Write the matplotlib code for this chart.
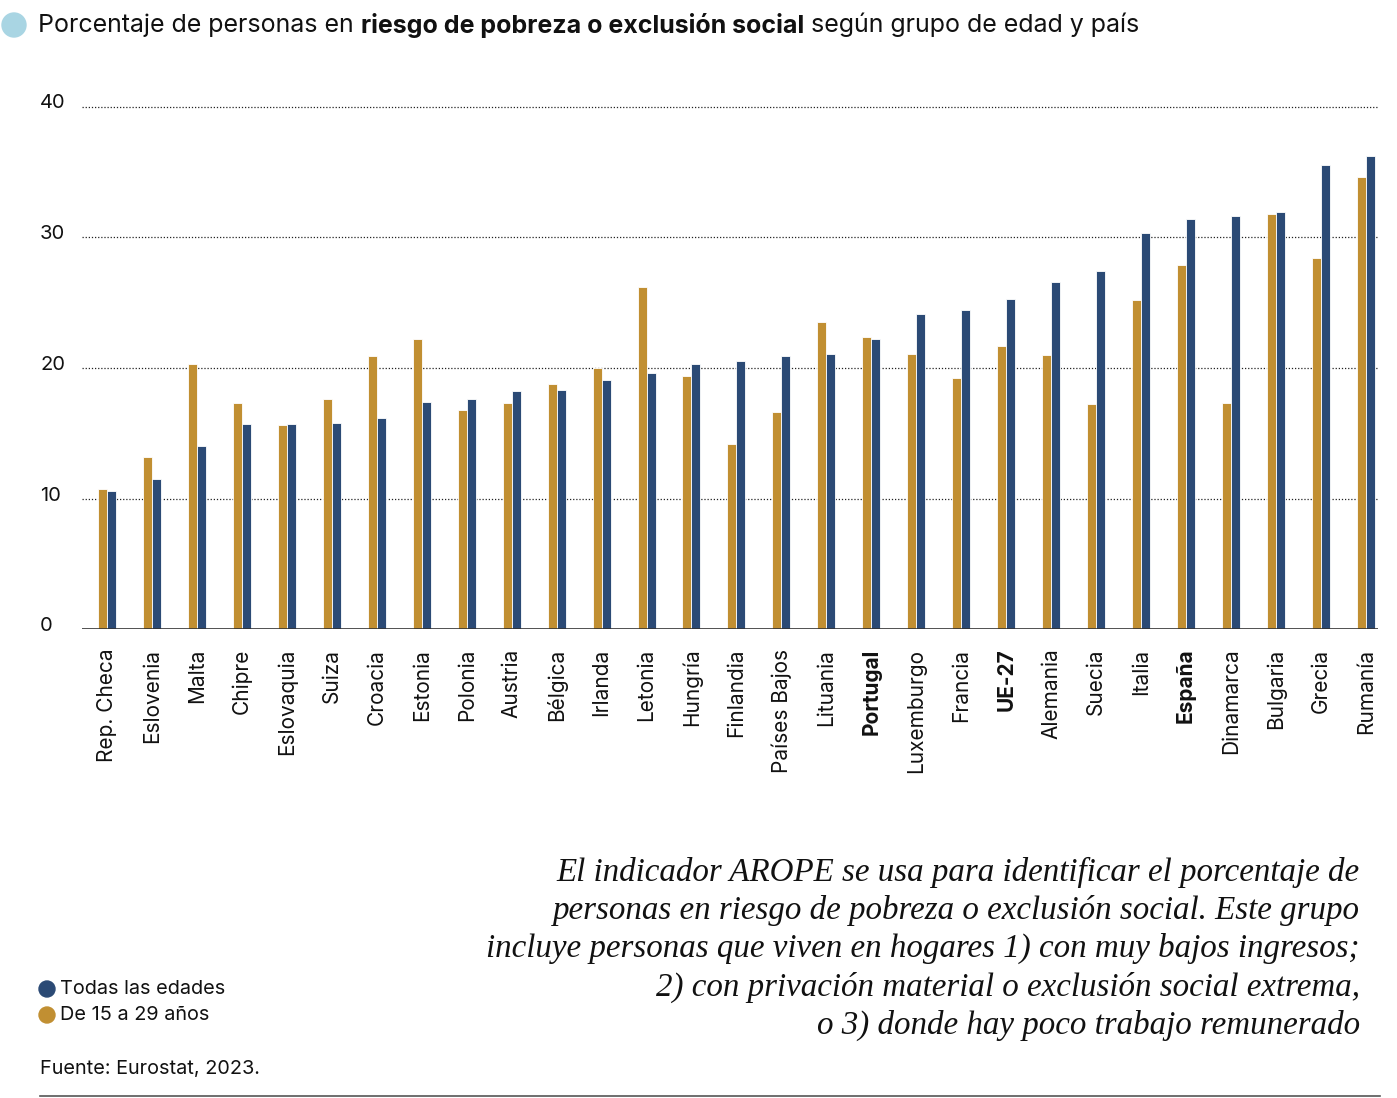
import numpy as np
import matplotlib
matplotlib.use("Agg")
import matplotlib.pyplot as plt
from matplotlib.patches import Circle
from matplotlib.lines import Line2D

# datos (Eurostat 2023)
paises = ['Rep. Checa', 'Eslovenia', 'Malta', 'Chipre', 'Eslovaquia', 'Suiza',
          'Croacia', 'Estonia', 'Polonia', 'Austria', 'Bélgica', 'Irlanda',
          'Letonia', 'Hungría', 'Finlandia', 'Países Bajos', 'Lituania',
          'Portugal', 'Luxemburgo', 'Francia', 'UE-27', 'Alemania', 'Suecia',
          'Italia', 'España', 'Dinamarca', 'Bulgaria', 'Grecia', 'Rumanía']
todas_edades = [10.6, 11.5, 14.0, 15.7, 15.7, 15.8, 16.2, 17.4, 17.6, 18.2,
                18.3, 19.1, 19.6, 20.3, 20.5, 20.9, 21.1, 22.2, 24.1, 24.4,
                25.3, 26.6, 27.4, 30.3, 31.4, 31.6, 31.9, 35.5, 36.2]
jovenes_15_29 = [10.7, 13.2, 20.3, 17.3, 15.6, 17.6, 20.9, 22.2, 16.8, 17.3,
                 18.8, 20.0, 26.2, 19.4, 14.2, 16.6, 23.5, 22.4, 21.1, 19.2,
                 21.7, 21.0, 17.2, 25.2, 27.9, 17.3, 31.8, 28.4, 34.6]
resaltados = ['Portugal', 'UE-27', 'España']
yticks = [0, 10, 20, 30, 40]

AZUL = '#2b4a75'
ORO = '#c18f32'
SANS = ['Inter', 'DejaVu Sans']

plt.rcParams['font.family'] = SANS

W, H = 1397, 1098
fig = plt.figure(figsize=(W / 100, H / 100), dpi=100)

# ejes en pixeles
left, right, bottom = 82, 1378, 629.3
ymax = 40.5
px_per_unit = 13.07
top = bottom - ymax * px_per_unit
ax = fig.add_axes([left / W, 1 - bottom / H, (right - left) / W, (bottom - top) / H])

x = np.arange(len(paises))
w = 0.2
ax.bar(x - w / 2, jovenes_15_29, width=w, color=ORO, edgecolor='white', linewidth=0.6, zorder=3)
ax.bar(x + w / 2, todas_edades, width=w, color=AZUL, edgecolor='white', linewidth=0.6, zorder=3)

ax.set_xlim(-0.556, len(paises) - 1 + 0.27)
ax.set_ylim(0, ymax)

for v in yticks[1:]:
    ax.axhline(v, color='#222222', linewidth=0.9, linestyle=(0, (1, 1.5)), zorder=1)
ax.axhline(0, color='#333333', linewidth=1.2, zorder=4)

for s in ax.spines.values():
    s.set_visible(False)

ax.set_yticks(yticks)
ax.set_yticklabels([])
ax.tick_params(axis='y', length=0)
for v in yticks:
    fig.text(40 / W, 1 - (bottom - v * px_per_unit - 3) / H, str(v), fontsize=14.5,
             ha='left', va='center', color='#111111')

ax.set_xticks(x)
ax.set_xticklabels(paises, rotation=90, fontsize=15, color='#111111')
ax.tick_params(axis='x', length=0, pad=14)
for lbl in ax.get_xticklabels():
    if lbl.get_text() in resaltados:
        lbl.set_fontweight('bold')

# titulo en tres trozos (normal / negrita / normal)
fig.add_artist(Circle((14 / 100, (H - 25) / 100), 12 / 100, transform=fig.dpi_scale_trans,
                      color='#a9d5e3', zorder=5))
renderer = fig.canvas.get_renderer()
xpos = 38
ty = 1 - 25 / H
for txt, peso in [('Porcentaje de personas en ', 'normal'),
                  ('riesgo de pobreza o exclusión social', 'bold'),
                  (' según grupo de edad y país', 'normal')]:
    t = fig.text(xpos / W, ty, txt, fontsize=18, fontweight=peso, ha='left', va='center',
                 color='#111111')
    bb = t.get_window_extent(renderer=renderer)
    xpos += bb.width

# leyenda
for yy, col, lab in [(989, AZUL, 'Todas las edades'), (1015, ORO, 'De 15 a 29 años')]:
    fig.add_artist(Circle((47 / 100, (H - yy) / 100), 8 / 100, transform=fig.dpi_scale_trans,
                          color=col))
    fig.text(60 / W, 1 - yy / H, lab, fontsize=14.3, ha='left', va='center', color='#111111')

fig.text(40 / W, 1 - 1069 / H, 'Fuente: Eurostat, 2023.', fontsize=14.3, ha='left',
         va='center', color='#111111')
fig.add_artist(Line2D([40 / W, 1380 / W], [1 - 1096 / H, 1 - 1096 / H], color='#555555',
                      linewidth=1.2))

nota = ('El indicador AROPE se usa para identificar el porcentaje de\n'
        'personas en riesgo de pobreza o exclusión social. Este grupo\n'
        'incluye personas que viven en hogares 1) con muy bajos ingresos;\n'
        '2) con privación material o exclusión social extrema,\n'
        'o 3) donde hay poco trabajo remunerado')
fig.text(1360 / W, 1 - 949 / H, nota, fontsize=23.8, family=['Liberation Serif', 'DejaVu Serif'],
         style='italic', ha='right', va='center', multialignment='right', linespacing=1.29,
         color='#111111')

fig.savefig('out.png', dpi=100)
